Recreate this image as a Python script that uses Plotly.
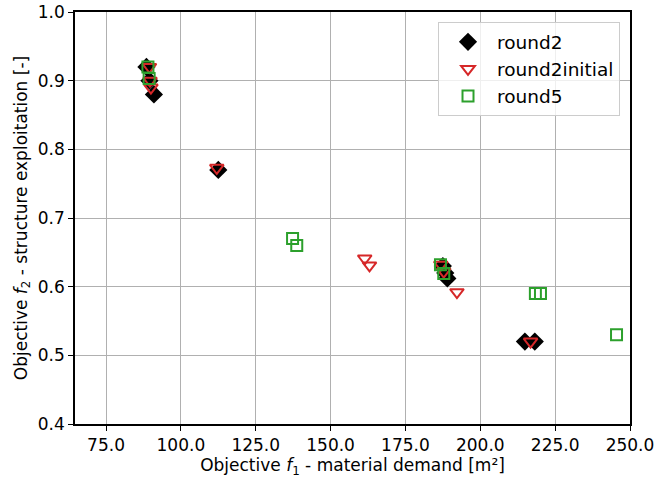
import plotly.graph_objects as go

# Objective values per optimisation run
round2_f1 = [88.5, 89.5, 91.0, 112.5, 187.5, 188.3, 189.0, 214.9, 218.2]
round2_f2 = [0.920, 0.900, 0.880, 0.770, 0.630, 0.620, 0.612, 0.520, 0.520]

round2initial_f1 = [89.5, 89.7, 90.0, 112.0, 161.4, 163.0, 186.8, 187.8, 192.2, 216.8]
round2initial_f2 = [0.920, 0.900, 0.890, 0.773, 0.641, 0.631, 0.632, 0.622, 0.592, 0.520]

round5_f1 = [89.0, 89.4, 137.3, 138.7, 186.7, 187.8, 218.4, 220.1, 245.5]
round5_f2 = [0.920, 0.903, 0.670, 0.660, 0.632, 0.619, 0.590, 0.590, 0.530]

x_ticks = [75, 100, 125, 150, 175, 200, 225, 250]
y_ticks = [0.4, 0.5, 0.6, 0.7, 0.8, 0.9, 1.0]

FONT = "DejaVu Sans"

fig = go.Figure()
fig.add_trace(go.Scatter(
    x=round2_f1, y=round2_f2, mode="markers", name="round2",
    marker=dict(symbol="diamond", size=14, color="black",
                line=dict(width=0)),
))
fig.add_trace(go.Scatter(
    x=round2initial_f1, y=round2initial_f2, mode="markers", name="round2initial",
    marker=dict(symbol="triangle-down-open", size=12, color="#d62728",
                line=dict(width=2, color="#d62728")),
))
fig.add_trace(go.Scatter(
    x=round5_f1, y=round5_f2, mode="markers", name="round5",
    marker=dict(symbol="square-open", size=11, color="#2ca02c",
                line=dict(width=2, color="#2ca02c")),
))

axis_common = dict(
    showline=True, linecolor="black", linewidth=1.5, mirror=True,
    ticks="outside", ticklen=5, tickwidth=1.2, tickcolor="black",
    showgrid=True, gridcolor="#b0b0b0", gridwidth=1,
    zeroline=False, automargin=False,
    tickfont=dict(family=FONT, size=17, color="black"),
)

fig.update_xaxes(
    range=[64.64, 250], tickvals=x_ticks,
    ticktext=[f"{v:.1f}" for v in x_ticks],
    title=dict(text="Objective <i>f</i><sub>1</sub> - material demand [m²]",
               font=dict(family=FONT, size=17, color="black"), standoff=4),
    **axis_common,
)
fig.update_yaxes(
    range=[0.4, 1.0], tickvals=y_ticks,
    ticktext=[f"{v:.1f}" for v in y_ticks],
    title=dict(text="Objective <i>f</i><sub>2</sub> - structure exploitation [-]",
               font=dict(family=FONT, size=17, color="black"), standoff=6),
    **axis_common,
)

fig.update_layout(
    width=658, height=481,
    margin=dict(l=75, r=28, t=12, b=57),
    paper_bgcolor="white", plot_bgcolor="white",
    font=dict(family=FONT, size=17, color="black"),
    legend=dict(
        x=0.982, y=0.975, xanchor="right", yanchor="top",
        bgcolor="rgba(255,255,255,0.8)", bordercolor="#cccccc", borderwidth=1,
        font=dict(family=FONT, size=18.5, color="black"),
        itemwidth=48,
    ),
)

fig.write_html("out.html")
